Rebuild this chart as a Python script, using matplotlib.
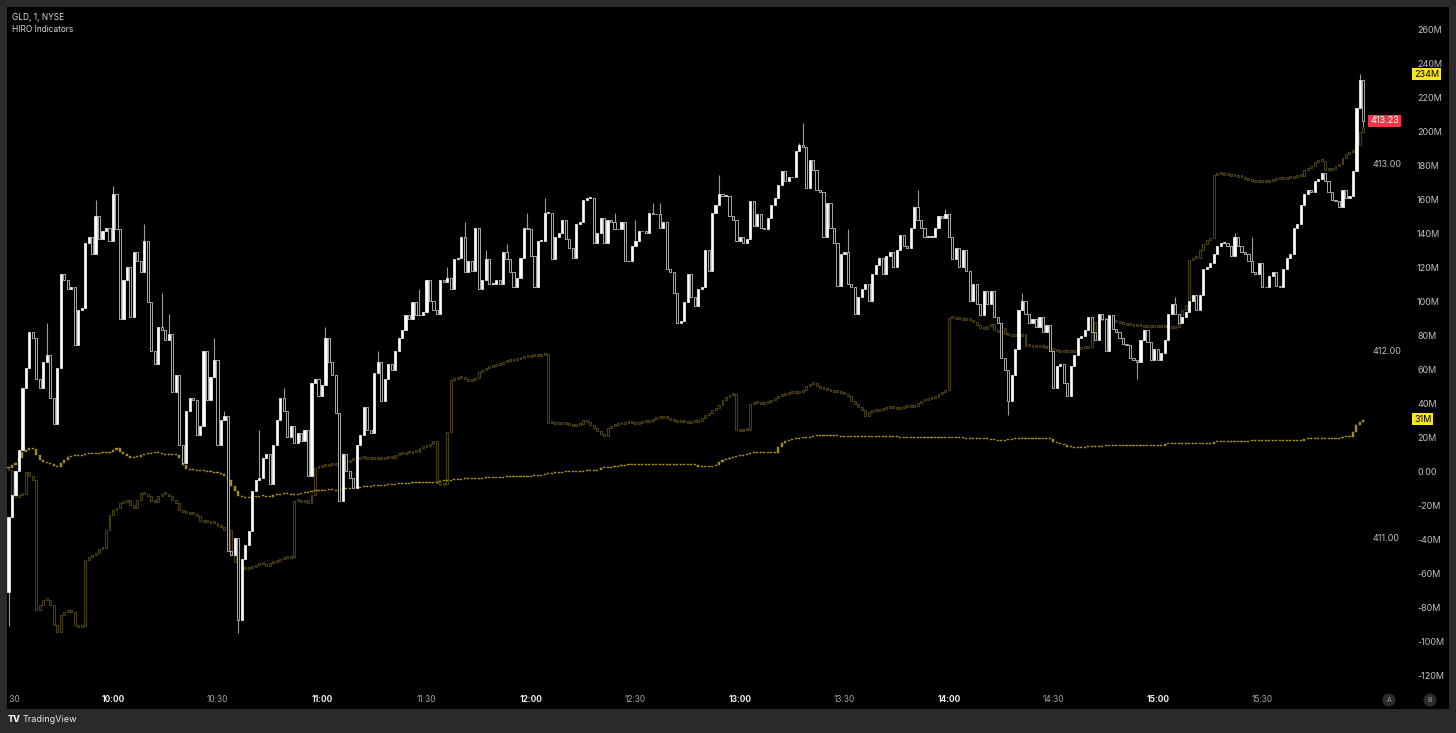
import matplotlib
matplotlib.use('Agg')
import matplotlib.pyplot as plt
from matplotlib.transforms import blended_transform_factory as btf
from matplotlib.patches import Ellipse
import numpy as np

plt.rcParams['font.family'] = ['Inter', 'DejaVu Sans']

# ---------------- DATA ----------------
symbol_title = "GLD, 1, NYSE"
indicator_title = "HIRO Indicators"

first_open = 410.71
closes = [
    411.11, 411.23, 411.36, 411.47, 411.80, 411.91, 412.10, 412.07, 411.85, 411.80,
    411.94, 411.98, 411.75, 411.61, 411.91, 412.41, 412.38, 412.33, 412.34, 412.03,
    412.22, 412.23, 412.58, 412.61, 412.52, 412.72, 412.60, 412.64, 412.66, 412.59,
    412.84, 412.65, 412.17, 412.38, 412.45, 412.18, 412.53, 412.48, 412.42, 412.59,
    412.26, 412.00, 411.93, 412.13, 412.11, 412.06, 412.09, 411.78, 411.87, 411.50,
    411.40, 411.68, 411.75, 411.74, 411.55, 411.60, 412.00, 411.74, 411.86, 411.95,
    411.50, 411.63, 411.65, 410.93, 410.91, 411.00, 410.56, 410.89, 410.96, 411.04,
    411.25, 411.31, 411.32, 411.43, 411.45, 411.29, 411.50, 411.63, 411.75, 411.68,
    411.54, 411.60, 411.51, 411.56, 411.52, 411.58, 411.33, 411.83, 411.85, 411.76,
    411.82, 412.07, 411.94, 411.87, 411.67, 411.20, 411.45, 411.36, 411.32, 411.27,
    411.50, 411.55, 411.70, 411.58, 411.56, 411.88, 411.94, 411.73, 411.85, 411.93,
    411.90, 412.00, 412.07, 412.11, 412.19, 412.17, 412.26, 412.19, 412.19, 412.21,
    412.38, 412.27, 412.22, 412.20, 412.38, 412.37, 412.39, 412.33, 412.49, 412.50,
    412.61, 412.42, 412.48, 412.43, 412.66, 412.33, 412.38, 412.49, 412.36, 412.36,
    412.38, 412.36, 412.53, 412.49, 412.42, 412.34, 412.39, 412.50, 412.66, 412.65,
    412.51, 412.34, 412.59, 412.59, 412.74, 412.74, 412.49, 412.61, 412.63, 412.70,
    412.60, 412.55, 412.50, 412.68, 412.69, 412.81, 412.82, 412.82, 412.58, 412.63,
    412.71, 412.58, 412.70, 412.69, 412.65, 412.65, 412.69, 412.48, 412.48, 412.56,
    412.59, 412.64, 412.64, 412.63, 412.74, 412.73, 412.73, 412.66, 412.69, 412.44,
    412.42, 412.31, 412.15, 412.16, 412.26, 412.41, 412.29, 412.24, 412.33, 412.34,
    412.54, 412.43, 412.74, 412.78, 412.84, 412.83, 412.83, 412.72, 412.70, 412.59,
    412.61, 412.58, 412.60, 412.80, 412.67, 412.73, 412.66, 412.65, 412.71, 412.78,
    412.82, 412.89, 412.96, 412.91, 412.93, 412.93, 413.07, 413.10, 413.09, 412.87,
    413.02, 412.97, 412.86, 412.85, 412.61, 412.79, 412.66, 412.58, 412.35, 412.52,
    412.53, 412.36, 412.34, 412.20, 412.29, 412.33, 412.36, 412.27, 412.41, 412.46,
    412.50, 412.41, 412.51, 412.53, 412.45, 412.54, 412.62, 412.56, 412.55, 412.66,
    412.77, 412.70, 412.66, 412.61, 412.61, 412.61, 412.66, 412.72, 412.71, 412.73,
    412.61, 412.49, 412.55, 412.45, 412.54, 412.43, 412.27, 412.36, 412.25, 412.19,
    412.32, 412.25, 412.32, 412.18, 412.15, 411.96, 411.90, 411.73, 411.87, 412.01,
    412.22, 412.27, 412.20, 412.15, 412.17, 412.13, 412.18, 412.10, 412.14, 412.00,
    411.80, 411.92, 411.93, 411.83, 411.76, 411.92, 411.98, 412.07, 412.08, 412.11,
    412.18, 412.10, 412.06, 412.20, 412.17, 412.00, 412.19, 412.12, 412.10, 412.07,
    412.04, 412.03, 411.96, 411.95, 411.94, 412.06, 412.11, 412.05, 411.95, 412.01,
    411.95, 411.99, 412.06, 412.20, 412.25, 412.20, 412.15, 412.18, 412.21, 412.27,
    412.30, 412.22, 412.30, 412.44, 412.45, 412.47, 412.52, 412.56, 412.58, 412.58,
    412.56, 412.51, 412.61, 412.56, 412.53, 412.52, 412.48, 412.42, 412.41, 412.47,
    412.34, 412.34, 412.40, 412.42, 412.35, 412.34, 412.44, 412.50, 412.52, 412.66,
    412.68, 412.78, 412.84, 412.86, 412.85, 412.91, 412.92, 412.95, 412.91, 412.85,
    412.81, 412.80, 412.77, 412.86, 412.82, 412.83, 412.96, 413.30, 413.45, 413.23,
]

# notable wick extremes (minute index -> price)
highs = {11: 412.15, 25: 412.81, 30: 412.88, 39: 412.68, 44: 412.31, 46: 412.20,
         59: 412.07, 62: 411.68, 72: 411.58, 79: 411.80, 91: 412.13, 106: 412.00,
         118: 412.33, 126: 412.45, 131: 412.69, 137: 412.54, 143: 412.57, 149: 412.74,
         154: 412.82, 174: 412.74, 180: 412.70, 185: 412.79, 187: 412.79, 204: 412.94,
         227: 413.11, 228: 413.22, 241: 412.65, 261: 412.86, 269: 412.76, 291: 412.31,
         335: 412.29, 352: 412.63, 357: 412.61, 388: 413.48}
lows = {0: 410.53, 66: 410.49, 287: 411.66, 324: 411.85, 389: 413.20}

# HIRO indicator series, millions
hiro_fast = [
    2.4, 4.1, 5.3, 8.2, 11.8, 12.9, 14.1, 13.5, 10.0, 7.1,
    5.9, 5.3, 4.7, 3.5, 2.9, 5.3, 7.1, 8.8, 9.4, 10.0,
    9.4, 10.0, 10.6, 11.2, 10.6, 10.6, 11.2, 11.8, 11.2, 11.8,
    12.9, 14.1, 11.8, 10.6, 9.4, 8.2, 8.8, 8.8, 10.0, 10.6,
    10.6, 11.2, 11.2, 11.2, 10.6, 10.0, 10.0, 10.6, 10.0, 8.2,
    4.1, 1.8, 1.2, 1.2, 0.6, 0.6, 0.6, 0.0, 0.0, -0.6,
    -0.6, -1.2, -2.4, -4.7, -8.2, -11.2, -14.1, -14.7, -15.3, -14.7,
    -14.7, -14.7, -14.1, -14.1, -14.7, -14.7, -13.5, -13.5, -12.9, -12.4,
    -12.9, -13.5, -13.5, -12.9, -12.4, -12.4, -11.8, -11.2, -11.2, -10.6,
    -11.2, -10.6, -10.6, -10.6, -11.2, -10.6, -10.0, -10.0, -9.4, -9.4,
    -9.4, -8.8, -8.8, -8.8, -8.2, -8.2, -8.2, -8.2, -7.6, -7.6,
    -7.6, -7.1, -7.1, -7.1, -7.1, -6.5, -6.5, -6.5, -6.5, -6.5,
    -6.5, -6.5, -6.5, -5.9, -5.3, -5.3, -5.3, -4.7, -4.7, -4.7,
    -4.1, -4.1, -4.1, -4.1, -4.1, -4.1, -3.5, -3.5, -3.5, -3.5,
    -3.5, -3.5, -2.9, -2.9, -2.9, -2.9, -2.9, -2.9, -2.9, -2.9,
    -2.4, -2.4, -2.4, -1.8, -1.2, -1.2, -0.6, -0.6, -0.6, 0.0,
    0.0, 0.0, 0.0, 0.0, 0.0, 0.6, 0.6, 0.6, 0.6, 1.2,
    2.4, 2.4, 2.4, 2.9, 2.9, 3.5, 3.5, 4.1, 4.1, 4.1,
    4.1, 4.1, 4.1, 4.1, 4.1, 4.1, 4.1, 4.1, 4.1, 4.1,
    4.1, 4.1, 4.1, 4.1, 4.1, 4.1, 4.1, 4.1, 2.9, 2.9,
    2.9, 2.9, 3.5, 4.1, 5.9, 7.1, 7.6, 8.2, 8.8, 9.4,
    9.4, 10.0, 10.6, 11.2, 11.2, 11.2, 11.2, 11.2, 11.2, 11.2,
    11.2, 14.7, 17.1, 18.2, 18.8, 19.4, 19.4, 20.0, 20.0, 20.0,
    20.6, 21.2, 21.2, 21.2, 21.2, 21.2, 21.2, 21.2, 21.2, 20.6,
    20.6, 20.6, 20.6, 20.6, 20.6, 20.6, 20.6, 20.6, 20.6, 20.6,
    20.6, 20.6, 20.6, 20.6, 20.6, 20.6, 20.0, 20.0, 20.0, 20.0,
    20.0, 20.0, 20.0, 20.0, 20.0, 20.0, 20.0, 20.0, 20.0, 20.0,
    20.0, 20.0, 20.0, 20.0, 20.0, 19.4, 19.4, 19.4, 19.4, 19.4,
    19.4, 19.4, 18.8, 18.8, 18.2, 18.2, 18.8, 18.8, 19.4, 19.4,
    19.4, 19.4, 19.4, 19.4, 19.4, 19.4, 19.4, 19.4, 19.4, 19.4,
    17.6, 17.1, 16.5, 15.9, 15.0, 15.0, 14.1, 14.1, 14.1, 15.0,
    15.0, 15.0, 15.0, 15.0, 15.3, 15.3, 15.3, 15.3, 15.3, 15.3,
    15.3, 15.3, 15.3, 15.3, 15.3, 15.3, 15.3, 15.3, 15.3, 15.3,
    15.3, 15.3, 16.5, 16.5, 16.5, 16.5, 16.5, 16.5, 16.5, 16.5,
    16.5, 16.5, 16.5, 16.5, 16.5, 16.5, 17.6, 17.6, 17.6, 17.6,
    17.6, 17.6, 17.6, 17.6, 17.6, 17.6, 18.2, 18.2, 18.2, 18.2,
    18.2, 18.2, 18.2, 18.2, 18.2, 18.2, 18.2, 18.2, 18.2, 18.2,
    18.2, 18.2, 19.4, 19.4, 19.4, 19.4, 19.4, 19.4, 19.4, 19.4,
    19.4, 19.4, 20.0, 20.6, 20.6, 20.6, 23.5, 27.6, 29.4, 30.6,
]

hiro_slow = [
    1.2, -13.5, -14.7, -13.5, -12.9, 0.0, -2.4, -4.7, -81.2, -78.2,
    -75.3, -75.3, -78.2, -90.0, -94.1, -84.1, -82.4, -81.2, -82.4, -90.0,
    -91.2, -90.6, -51.8, -50.0, -48.8, -47.6, -45.3, -44.7, -34.1, -25.3,
    -22.4, -21.2, -18.2, -17.6, -16.5, -19.4, -21.2, -16.5, -12.4, -12.9,
    -14.1, -17.1, -17.6, -14.1, -12.9, -12.9, -14.1, -16.5, -18.2, -22.4,
    -23.5, -24.1, -24.7, -24.7, -25.9, -28.8, -29.4, -28.8, -30.0, -30.0,
    -31.8, -32.4, -34.1, -34.1, -48.8, -52.9, -55.3, -56.5, -57.1, -56.5,
    -55.9, -54.7, -54.1, -54.1, -55.3, -53.5, -52.9, -52.4, -51.2, -50.6,
    -50.6, -50.0, -17.1, -17.1, -17.6, -16.5, -18.2, -13.5, 2.4, 2.9,
    3.5, 3.5, 4.1, 4.1, 4.7, 4.7, 5.3, 5.9, 7.1, 7.6,
    7.6, 8.2, 8.2, 7.6, 7.6, 7.6, 8.2, 7.6, 8.2, 8.2,
    8.2, 10.0, 10.6, 10.6, 11.2, 11.2, 11.8, 11.8, 14.1, 14.7,
    15.3, 16.5, 18.2, -6.5, -7.6, -7.1, 23.5, 54.1, 54.7, 55.3,
    55.3, 54.7, 53.5, 54.1, 55.3, 58.8, 60.0, 61.2, 61.8, 62.4,
    62.9, 63.5, 64.7, 65.9, 65.3, 65.9, 66.5, 67.1, 67.6, 67.6,
    68.2, 68.2, 68.2, 68.8, 69.4, 28.8, 28.8, 28.2, 28.2, 28.8,
    28.2, 27.6, 27.1, 27.6, 28.2, 30.6, 29.4, 27.6, 25.9, 24.1,
    22.4, 21.2, 25.9, 27.1, 27.6, 28.2, 28.2, 28.8, 28.8, 28.8,
    28.2, 28.8, 29.4, 29.4, 30.0, 31.2, 31.8, 31.8, 32.4, 31.8,
    30.6, 30.0, 29.4, 29.4, 29.4, 28.8, 29.4, 29.4, 30.0, 31.8,
    33.5, 34.7, 36.5, 37.6, 39.4, 42.4, 44.1, 45.3, 45.9, 24.7,
    24.1, 24.7, 24.7, 40.0, 40.6, 40.6, 40.0, 40.6, 41.2, 42.4,
    43.5, 44.7, 45.3, 45.9, 46.5, 46.5, 46.5, 47.1, 48.2, 50.6,
    51.8, 52.4, 50.6, 49.4, 48.8, 48.2, 47.6, 47.1, 47.1, 46.5,
    45.9, 44.7, 41.8, 40.0, 38.2, 36.5, 32.9, 35.3, 35.9, 35.9,
    36.5, 37.1, 37.6, 37.6, 37.6, 37.1, 37.6, 38.2, 38.2, 38.2,
    38.8, 40.6, 41.8, 42.4, 42.9, 43.5, 44.1, 45.9, 47.1, 48.2,
    90.6, 90.6, 90.0, 90.0, 89.4, 89.4, 89.4, 88.2, 86.5, 84.7,
    84.1, 85.9, 87.1, 83.5, 82.4, 84.7, 81.2, 80.6, 80.0, 80.6,
    80.0, 81.2, 74.1, 74.1, 73.5, 73.5, 74.1, 73.5, 72.9, 72.9,
    71.2, 71.2, 70.6, 70.6, 71.2, 70.6, 71.2, 72.4, 72.9, 72.9,
    73.5, 83.5, 88.2, 89.4, 90.0, 89.4, 88.8, 88.8, 88.2, 87.6,
    87.1, 86.5, 86.5, 85.9, 85.9, 85.9, 85.3, 85.3, 85.3, 85.9,
    85.3, 85.3, 85.9, 85.3, 84.7, 85.3, 89.4, 95.3, 98.2, 124.7,
    125.9, 125.9, 130.6, 134.1, 136.5, 137.6, 174.7, 175.3, 175.3, 174.7,
    174.7, 174.1, 174.1, 173.5, 173.5, 172.4, 171.8, 171.2, 170.6, 170.6,
    171.2, 170.6, 171.2, 171.8, 172.4, 172.4, 172.4, 172.9, 172.9, 173.5,
    174.1, 174.1, 177.6, 178.8, 180.0, 182.4, 182.9, 182.9, 177.6, 177.6,
    178.2, 180.0, 181.2, 184.7, 187.1, 188.2, 188.2, 192.4, 200.0, 202.4,
]

hiro_labels = [234, 31]          # yellow value tags on the right scale
price_ticks = [411.00, 412.00, 413.00]
hiro_ticks = [260, 240, 220, 200, 180, 160, 140, 120, 100, 80, 60, 40, 20, 0,
              -20, -40, -60, -80, -100, -120]
time_labels = ["10:00", "10:30", "11:00", "11:30", "12:00", "12:30",
               "13:00", "13:30", "14:00", "14:30", "15:00", "15:30"]
time_minutes = [30, 60, 90, 120, 150, 180, 210, 240, 270, 300, 330, 360]

assert len(closes) == 390 and len(hiro_fast) == 390 and len(hiro_slow) == 390

# ---------------- FIGURE ----------------
W, H = 1456, 733
fig = plt.figure(figsize=(W / 100, H / 100), dpi=100, facecolor='#2a2a2a')


def fx(px):
    return px / W


def fy(py):
    return 1 - py / H


L, R, T, B = 7, 1449, 7, 709
ax_h = fig.add_axes([fx(L), fy(B), (R - L) / W, (B - T) / H])
ax_h.set_facecolor('black')
ax_p = ax_h.twinx()
ax_h.set_xlim(-0.431, 413.58)
ax_h.set_ylim(-139.41, 273.53)
ax_p.set_ylim(410.0856, 413.8396)
for a in (ax_h, ax_p):
    for s in a.spines.values():
        s.set_visible(False)
    a.set_xticks([])
    a.set_yticks([])

n = len(closes)
x = np.arange(n)


# HIRO series as tiny candles
def hiro_bars(vals, face, edge, lw, minh, width):
    v = np.array(vals, dtype=float)
    prev = np.concatenate([[v[0]], v[:-1]])
    bottom = np.minimum(prev, v)
    height = np.maximum(np.abs(v - prev), minh)
    ax_h.bar(x, height, bottom=bottom, width=width, color=face,
             edgecolor=edge, linewidth=lw, zorder=2)


hiro_bars(hiro_slow, 'none', '#463d10', 0.8, 1.1, 0.55)
hiro_bars(hiro_fast, '#9f8d1d', '#9f8d1d', 0.3, 0.55, 0.6)

# price candles
c = np.array(closes)
o = np.concatenate([[first_open], c[:-1]])
top = np.maximum(o, c)
bot = np.minimum(o, c)
for i, hv in highs.items():
    ax_p.vlines(i, top[i], hv, color='#9a9a9a', linewidth=0.8, zorder=3)
for i, lv in lows.items():
    ax_p.vlines(i, lv, bot[i], color='#9a9a9a', linewidth=0.8, zorder=3)
up = c >= o
hgt = np.maximum(top - bot, 0.003)
ax_p.bar(x[up], hgt[up], bottom=bot[up], width=0.62, color='white',
         edgecolor='white', linewidth=0.5, zorder=4)
ax_p.bar(x[~up], hgt[~up], bottom=bot[~up], width=0.62, color='black',
         edgecolor='#c4c4c4', linewidth=0.6, zorder=4)

# ---------------- TEXT ----------------
lab_col = '#c0c0c0'
tr_p = btf(fig.transFigure, ax_p.transData)
tr_h = btf(fig.transFigure, ax_h.transData)
for v in price_ticks:
    ax_p.text(fx(1372), v, f"{v:.2f}", transform=tr_p, ha='left', va='center',
              fontsize=6.5, color=lab_col, zorder=6)
for v in hiro_ticks:
    s = "0.00" if v == 0 else f"{v}M"
    ax_h.text(fx(1417), v, s, transform=tr_h, ha='left', va='center',
              fontsize=6.5, color=lab_col, zorder=6)

for v in hiro_labels:
    t = fig.text(fx(1414), 0, f"{v}M", ha='left', va='center', fontsize=6.5,
                 color='black', zorder=10,
                 bbox=dict(boxstyle='square,pad=0.18', fc='#f7e61c', ec='none'))
    t.set_transform(tr_h)
    t.set_position((fx(1414), v))

pt = fig.text(fx(1370), 0, f"{closes[-1]:.2f}", ha='left', va='center',
              fontsize=6.5, color='white', zorder=10,
              bbox=dict(boxstyle='square,pad=0.2', fc='#f23645', ec='none'))
pt.set_transform(tr_p)
pt.set_position((fx(1370), closes[-1]))

# time axis
tr_t = btf(ax_h.transData, fig.transFigure)
for m, s in zip(time_minutes, time_labels):
    full = s.endswith(":00")
    ax_h.text(m, fy(700), s, transform=tr_t, ha='center', va='center',
              fontsize=6, color='#f0f0f0' if full else '#a8a8a8',
              fontweight='bold' if full else 'normal', zorder=6)
fig.text(fx(14), fy(700), ":30", ha='center', va='center', fontsize=6,
         color='#a8a8a8')

# titles
fig.text(fx(12), fy(17), symbol_title, ha='left', va='center', fontsize=6,
         color='#dcdcdc')
fig.text(fx(12), fy(29), indicator_title, ha='left', va='center', fontsize=6,
         color='#dcdcdc')

# A / B buttons
for cx, s in ((1389, 'A'), (1430, 'B')):
    fig.add_artist(Ellipse((fx(cx), fy(700)), 13 / W, 13 / H,
                           transform=fig.transFigure, fc='#2c2c2c', ec='none',
                           zorder=8))
    fig.text(fx(cx), fy(700), s, ha='center', va='center', fontsize=5,
             color='#9a9a9a', zorder=9)

# footer
fig.text(fx(8), fy(720), "TV", ha='left', va='center', fontsize=6.5,
         color='#f0f0f0', fontweight='heavy')
fig.text(fx(23), fy(720), "TradingView", ha='left', va='center', fontsize=6.5,
         color='#e6e6e6')

fig.savefig('out.png', dpi=100, facecolor=fig.get_facecolor())
